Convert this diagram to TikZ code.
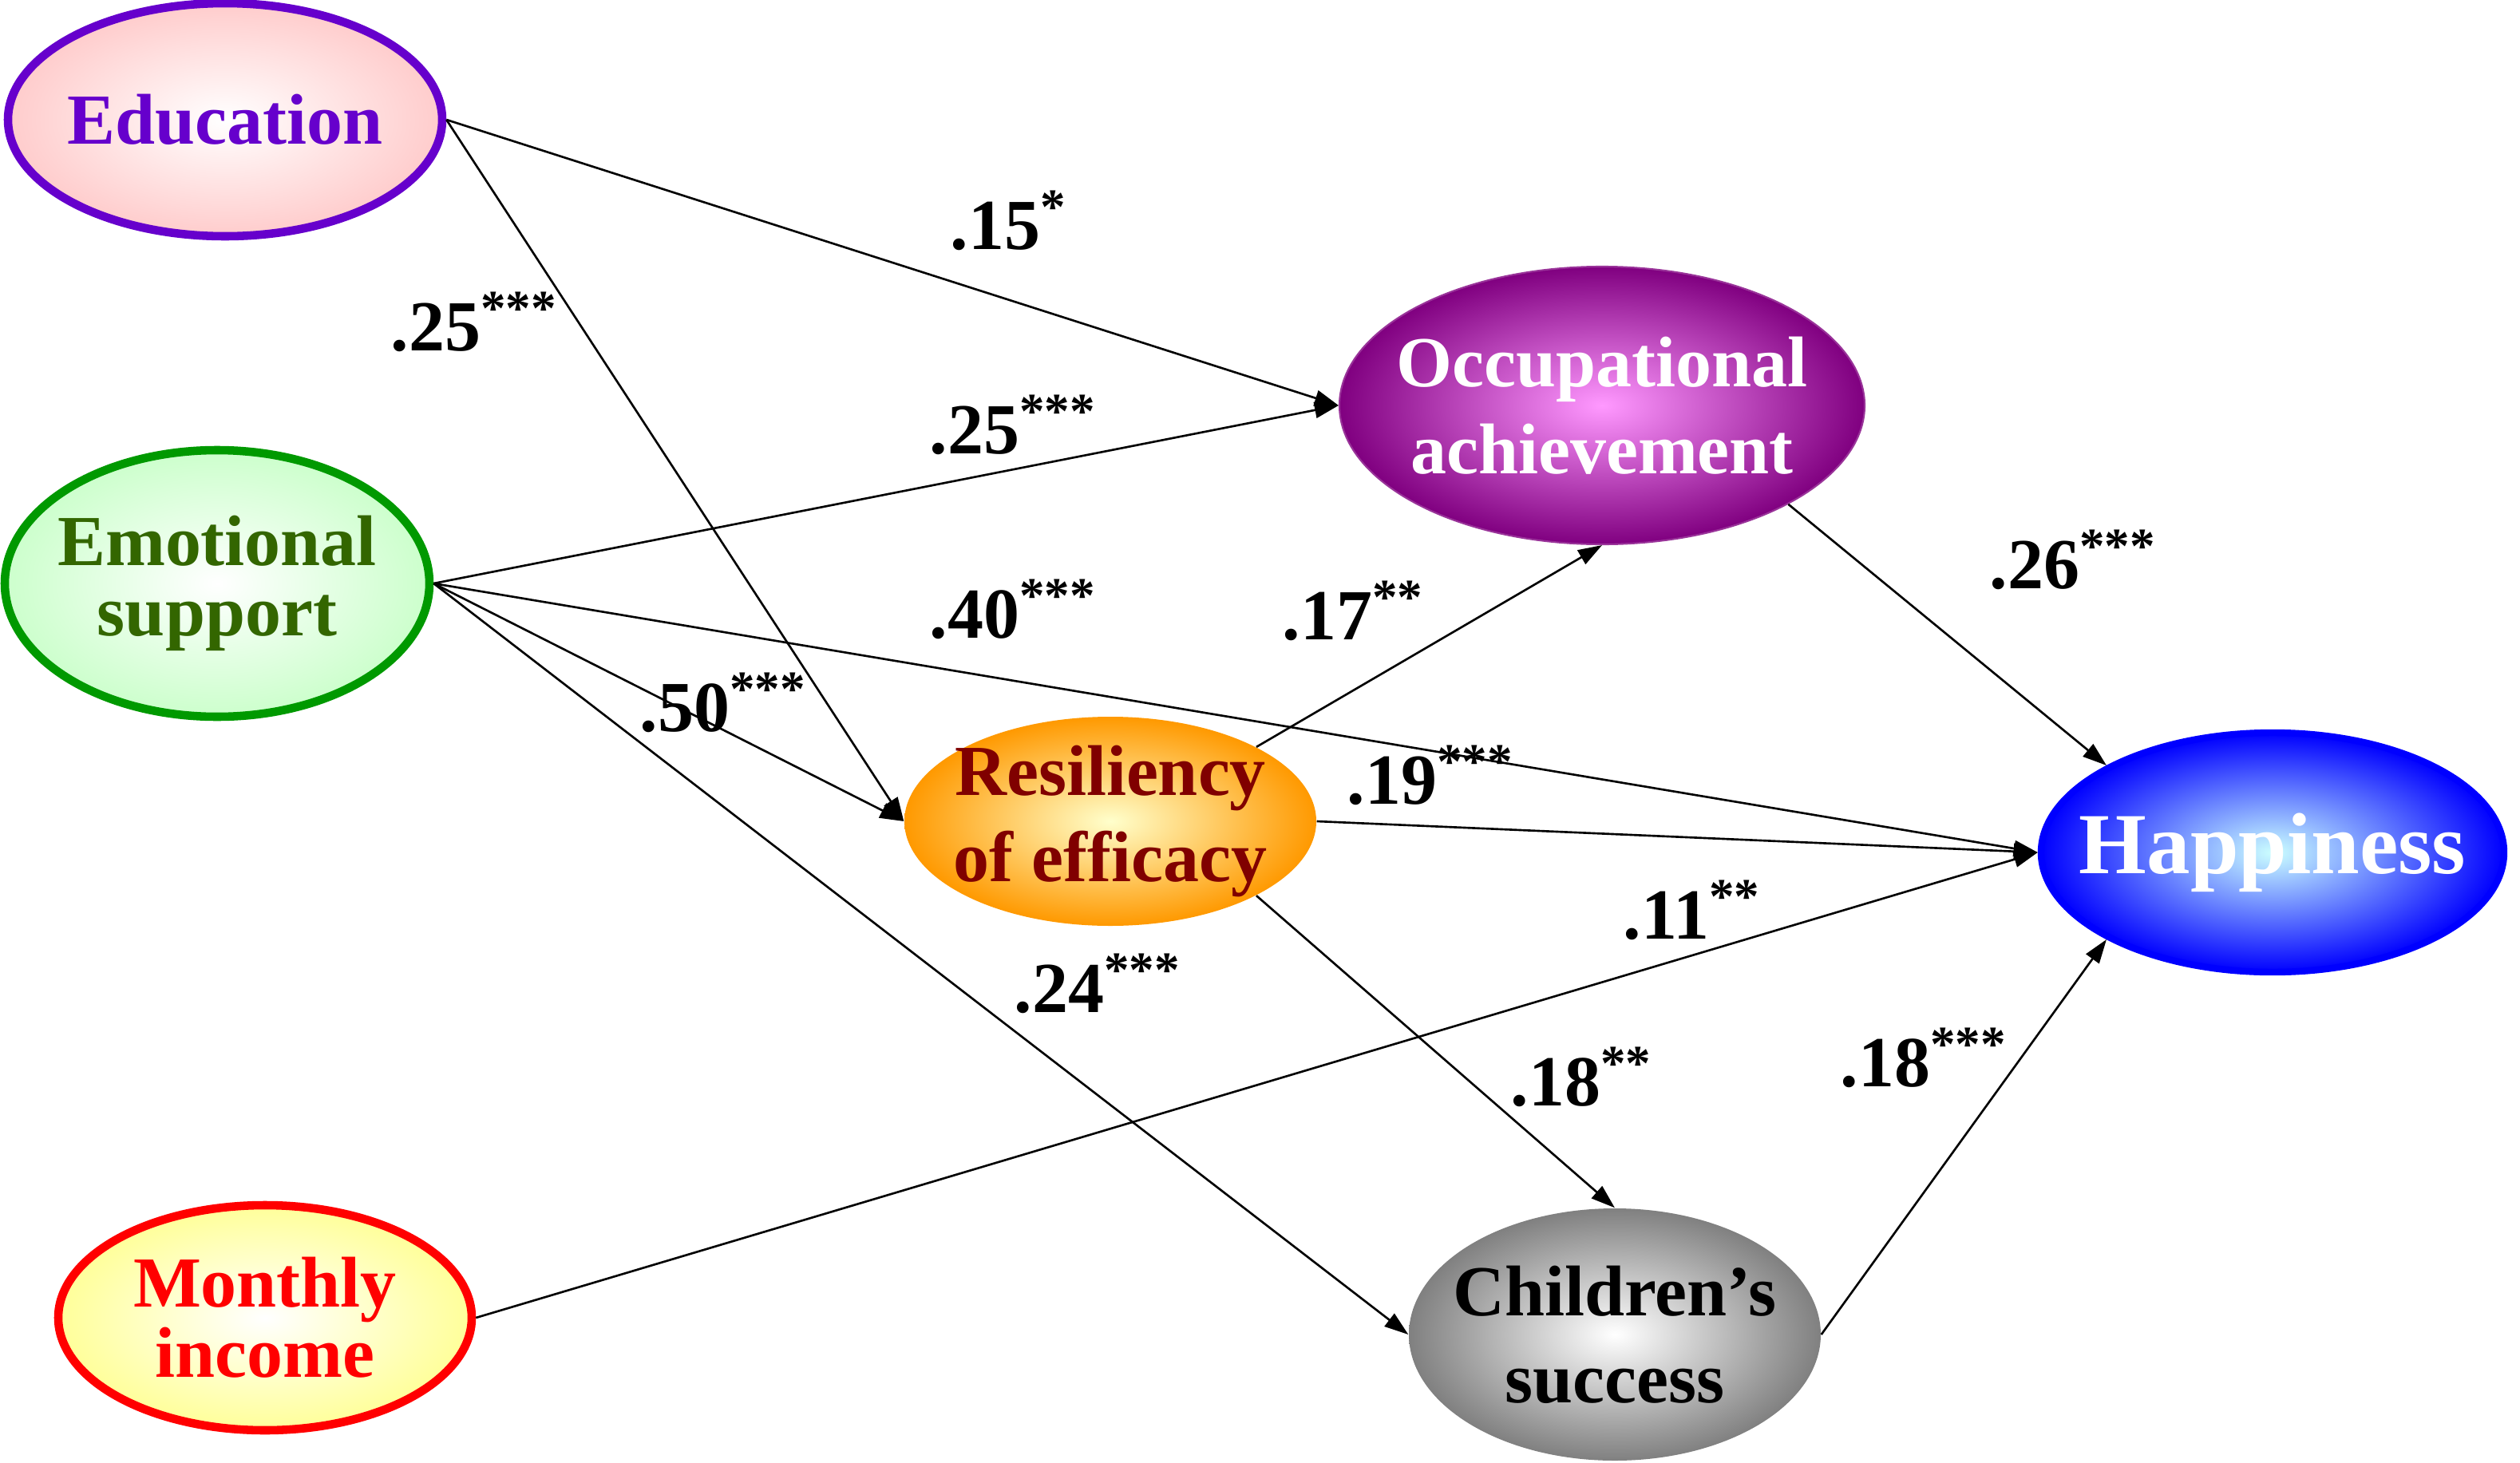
\documentclass[tikz,border=0pt]{standalone}
\usepackage{fontspec}
\setmainfont{Liberation Serif}
\usepackage{xcolor}
\usepackage{tikz}
\usetikzlibrary{arrows.meta,shapes.geometric}
\definecolor{eduline}{HTML}{6600CC}
\definecolor{edufill}{HTML}{FFCCCC}
\definecolor{emoline}{HTML}{009900}
\definecolor{emofill}{HTML}{CCFFCC}
\definecolor{emotext}{HTML}{336600}
\definecolor{incfill}{HTML}{FFFF99}
\definecolor{resin}{HTML}{FFFFCC}
\definecolor{resout}{HTML}{FF9900}
\definecolor{restext}{HTML}{800000}
\definecolor{occin}{HTML}{FF99FF}
\definecolor{occout}{HTML}{800080}
\definecolor{occline}{HTML}{993399}
\definecolor{hapin}{HTML}{CCFFFF}
\definecolor{hapout}{HTML}{0000FF}
\definecolor{chiout}{HTML}{808080}
\tikzset{
  var/.style={ellipse, inner xsep=-2cm, inner ysep=-1cm, align=center, shading=radial,
    font=\bfseries\fontsize{25.6}{25}\selectfont},
  exo/.style={var, line width=3pt},
  endo/.style={var, font=\bfseries\fontsize{25.6}{31}\selectfont},
  coef/.style={anchor=base west, inner sep=0pt,
    font=\bfseries\fontsize{25.6}{28}\selectfont},
  link/.style={-{Triangle[length=3mm,width=2mm]}, line width=0.75pt}
}

\begin{document}
\begin{tikzpicture}
  \useasboundingbox (0,0) rectangle (31.57,-18.33);
  % exogenous variables
  \node[exo, draw=eduline, inner color=white, outer color=edufill, text=eduline,
    minimum width=5.44cm, minimum height=2.92cm] (edu) at (2.82,-1.50) {Education};
  \node[exo, draw=emoline, inner color=white, outer color=emofill, text=emotext,
    minimum width=5.32cm, minimum height=3.34cm] (emo) at (2.72,-7.31) {Emotional\\support};
  \node[exo, draw=red, inner color=white, outer color=incfill, text=red,
    minimum width=5.18cm, minimum height=2.82cm] (inc) at (3.32,-16.51) {Monthly\\income};

  % mediators and outcome
  \node[endo, inner color=resin, outer color=resout, text=restext,
    minimum width=5.16cm, minimum height=2.62cm] (res) at (13.91,-10.29) {Resiliency\\of efficacy};
  \node[endo, draw=occline, line width=0.6pt, inner color=occin, outer color=occout, text=white,
    minimum width=6.58cm, minimum height=3.48cm] (occ) at (20.07,-5.08) {Occupational\\achievement};
  \node[endo, inner color=white, outer color=chiout, text=black,
    minimum width=5.16cm, minimum height=3.16cm] (chi) at (20.23,-16.72) {Children’s\\success};
  \node[var, draw=hapout, line width=2.4pt, inner color=hapin, outer color=hapout, text=white,
    font=\bfseries\fontsize{31}{33}\selectfont,
    minimum width=5.8cm, minimum height=3.0cm] (hap) at (28.47,-10.68) {Happiness};

  % paths
  \draw[link] (edu.east) -- (occ.west);
  \draw[link] (edu.east) -- (res.west);
  \draw[link] (emo.east) -- (occ.west);
  \draw[link] (emo.east) -- (hap.west);
  \draw[link] (emo.east) -- (res.west);
  \draw[link] (emo.east) -- (chi.west);
  \draw[link] (res.north east) -- (occ.south);
  \draw[link] (res.east) -- (hap.west);
  \draw[link] (res.south east) -- (chi.north);
  \draw[link] (inc.east) -- (hap.west);
  \draw[link] (occ.south east) -- (hap.north west);
  \draw[link] (chi.east) -- (hap.south west);

  % coefficients
  \node[coef] (c1) at (11.90,-3.12) {.15\textsuperscript{*}};
  \node[coef] (c2) at (4.89,-4.39) {.25\textsuperscript{***}};
  \node[coef] (c3) at (11.64,-5.68) {.25\textsuperscript{***}};
  \node[coef] (c4) at (11.64,-7.99) {.40\textsuperscript{***}};
  \node[coef] (c5) at (8.01,-9.16) {.50\textsuperscript{***}};
  \node[coef] (c6) at (12.70,-12.68) {.24\textsuperscript{***}};
  \node[coef] (c7) at (16.06,-8.01) {.17\textsuperscript{**}};
  \node[coef] (c8) at (16.87,-10.07) {.19\textsuperscript{***}};
  \node[coef] (c9) at (18.92,-13.85) {.18\textsuperscript{**}};
  \node[coef] (c10) at (20.33,-11.76) {.11\textsuperscript{**}};
  \node[coef] (c11) at (24.92,-7.37) {.26\textsuperscript{***}};
  \node[coef] (c12) at (23.05,-13.61) {.18\textsuperscript{***}};
\end{tikzpicture}
\end{document}
